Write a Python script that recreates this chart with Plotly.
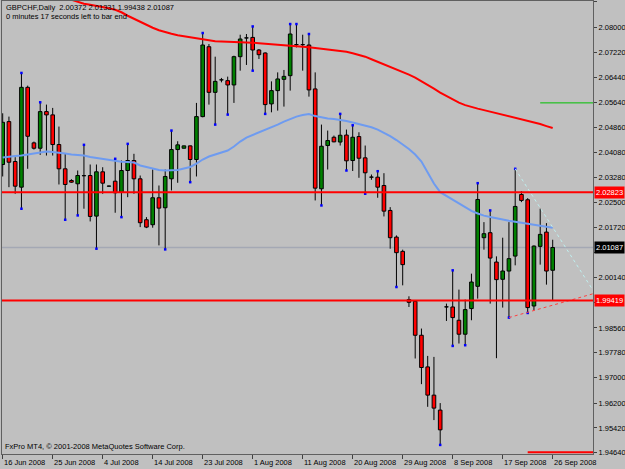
import plotly.graph_objects as go

# ---------------- data ----------------
tick_bars = [0, 8, 16, 24, 32, 40, 48, 56, 64, 72, 80, 88]
tick_labels = ["16 Jun 2008", "25 Jun 2008", "4 Jul 2008", "14 Jul 2008", "23 Jul 2008",
               "1 Aug 2008", "11 Aug 2008", "20 Aug 2008", "29 Aug 2008", "8 Sep 2008",
               "17 Sep 2008", "26 Sep 2008"]

opens = [2.03694, 2.05042, 2.03788, 2.02982, 2.06118, 2.04374, 2.04205, 2.05356, 2.05253, 2.04321,
         2.03559, 2.03192, 2.03089, 2.03340, 2.03349, 2.02073, 2.03465, 2.03013, 2.03170, 2.02825,
         2.03506, 2.03819, 2.03245, 2.01960, 2.01803, 2.02650, 2.02336, 2.03245, 2.04164, 2.04205,
         2.04280, 2.03851, 2.05199, 2.07394, 2.05961, 2.06350, 2.06328, 2.06193, 2.07081, 2.07667,
         2.07686, 2.07291, 2.07197, 2.05598, 2.06015, 2.06369, 2.06485, 2.07457, 2.07457, 2.07448,
         2.06068, 2.02932, 2.04290, 2.04550, 2.04400, 2.04619, 2.03819, 2.04572, 2.03904, 2.03296,
         2.03296, 2.03035, 2.02251, 2.01414, 2.00966, 1.99451, 1.99398, 1.98331, 1.97337, 1.96450,
         1.95980, 1.99219, 1.99219, 1.98802, 1.98363, 1.99169, 1.99868, 2.01395, 2.01552, 2.00630,
         2.00088, 2.00348, 2.00818, 2.02753, 2.02587, 1.99250, 2.01122, 2.01571, 2.00372]
highs = [2.05303, 2.05199, 2.03923, 2.06570, 2.06171, 2.04415, 2.05648, 2.05576, 2.05472, 2.04886,
         2.04030, 2.03233, 2.03506, 2.04312, 2.03694, 2.03694, 2.03609, 2.03030, 2.03873, 2.03819,
         2.04343, 2.04030, 2.03349, 2.02041, 2.03537, 2.03035, 2.03537, 2.04760, 2.04425, 2.04290,
         2.04290, 2.05629, 2.07824, 2.07479, 2.07081, 2.06413, 2.06454, 2.07112, 2.07771, 2.07793,
         2.08031, 2.07322, 2.07216, 2.06306, 2.06588, 2.06664, 2.08106, 2.08106, 2.07771, 2.07793,
         2.06588, 2.04948, 2.04760, 2.04603, 2.05284, 2.04792, 2.04926, 2.04707, 2.04290, 2.03380,
         2.03484, 2.03421, 2.02355, 2.01467, 2.01019, 1.99554, 1.99429, 1.98541, 1.97682, 1.97651,
         1.96200, 1.99325, 2.00370, 1.99765, 1.99451, 2.00266, 2.03108, 2.01884, 2.02251, 2.00809,
         2.01395, 2.01884, 2.03559, 2.02857, 2.02637, 2.01154, 2.02305, 2.01853, 2.01331]
lows = [2.03318, 2.02982, 2.02775, 2.02305, 2.03559, 2.04164, 2.03998, 2.03976, 2.03976, 2.03067,
        2.01960, 2.03120, 2.02095, 2.02305, 2.01906, 2.01050, 2.02775, 2.02998, 2.02179, 2.02041,
        2.02668, 2.02775, 2.01728, 2.01696, 2.01709, 2.01154, 2.01028, 2.02879, 2.03120, 2.04196,
        2.03139, 2.03318, 2.05177, 2.05576, 2.04948, 2.06275, 2.05262, 2.05629, 2.06642, 2.06821,
        2.06642, 2.07009, 2.05284, 2.05334, 2.05387, 2.05513, 2.06015, 2.07372, 2.06642, 2.05826,
        2.02565, 2.02408, 2.03537, 2.04393, 2.04290, 2.03506, 2.03490, 2.03277, 2.02775, 2.03214,
        2.02650, 2.02063, 2.01050, 1.99846, 1.99899, 1.99219, 1.97601, 1.96795, 1.96083, 1.95666,
        1.94886, 1.98780, 1.97996, 1.98071, 1.98018, 1.98802, 1.99482, 2.01019, 1.99325, 1.97610,
        1.99200, 1.98886, 2.00527, 2.02512, 1.99031, 1.99115, 2.00549, 1.99921, 1.99438]
closes = [2.05020, 2.03766, 2.03013, 2.06118, 2.04581, 2.04205, 2.05356, 2.05253, 2.04321, 2.03559,
          2.03067, 2.03139, 2.03349, 2.03340, 2.02063, 2.03465, 2.03108, 2.03013, 2.02806, 2.03506,
          2.03819, 2.03245, 2.01866, 2.01728, 2.02650, 2.02324, 2.03318, 2.04164, 2.04312, 2.04280,
          2.03851, 2.05199, 2.07448, 2.05961, 2.06306, 2.06350, 2.06193, 2.07081, 2.07636, 2.07667,
          2.07291, 2.07144, 2.05576, 2.06015, 2.06382, 2.06463, 2.07793, 2.07457, 2.07457, 2.06037,
          2.02951, 2.04268, 2.04447, 2.04406, 2.04613, 2.03810, 2.04550, 2.03891, 2.03434, 2.03296,
          2.02982, 2.02229, 2.01395, 2.00925, 2.00549, 1.99366, 1.98331, 1.97318, 1.96450, 1.96042,
          1.95360, 1.99219, 1.98886, 1.98363, 1.99137, 2.00003, 2.02596, 2.01521, 2.00756, 2.00078,
          2.00348, 2.00737, 2.02377, 2.02565, 1.99200, 2.01132, 2.01499, 2.00348, 2.01087]

ma_fast = [2.03913, 2.03945, 2.03961, 2.03976, 2.04008, 2.04039, 2.04070, 2.04102, 2.04086, 2.04070,
           2.04039, 2.04008, 2.03992, 2.03976, 2.03929, 2.03898, 2.03857, 2.03819, 2.03788, 2.03779,
           2.03772, 2.03757, 2.03663, 2.03616, 2.03569, 2.03521, 2.03506, 2.03506, 2.03521, 2.03569,
           2.03616, 2.03725, 2.03851, 2.03945, 2.04008, 2.04070, 2.04133, 2.04258, 2.04415, 2.04541,
           2.04619, 2.04697, 2.04792, 2.04870, 2.04948, 2.05042, 2.05121, 2.05199, 2.05246, 2.05278,
           2.05215, 2.05168, 2.05137, 2.05121, 2.05096, 2.05058, 2.05011, 2.04964, 2.04917, 2.04864,
           2.04792, 2.04697, 2.04588, 2.04462, 2.04321, 2.04180, 2.04008, 2.03788, 2.03443, 2.03098,
           2.02825, 2.02706, 2.02581, 2.02471, 2.02345, 2.02236, 2.02157, 2.02088, 2.02048, 2.02001,
           2.01960, 2.01928, 2.01897, 2.01866, 2.01834, 2.01806, 2.01781, 2.01743, 2.01709]
ma_slow = [None] * 11 + [
           2.08870, 2.08806, 2.08743, 2.08712, 2.08680, 2.08649, 2.08602, 2.08555, 2.08476, 2.08367,
           2.08273, 2.08163, 2.08069, 2.07990, 2.07912, 2.07849, 2.07802, 2.07755, 2.07724, 2.07686,
           2.07652, 2.07620, 2.07592, 2.07567, 2.07558, 2.07551, 2.07551, 2.07551, 2.07536, 2.07520,
           2.07504, 2.07489, 2.07479, 2.07467, 2.07457, 2.07442, 2.07426, 2.07410, 2.07379,
           2.07354, 2.07332, 2.07307, 2.07285, 2.07269, 2.07238, 2.07191, 2.07144, 2.07081, 2.07002,
           2.06924, 2.06846, 2.06767, 2.06689, 2.06610, 2.06516, 2.06422, 2.06313, 2.06203, 2.06077,
           2.05952, 2.05842, 2.05732, 2.05638, 2.05560, 2.05497, 2.05450, 2.05403, 2.05356, 2.05309,
           2.05262, 2.05215, 2.05168, 2.05121, 2.05074, 2.05027, 2.04964, 2.04901, 2.04839]

fractal_up_bars = [3, 6, 13, 18, 20, 27, 32, 40, 46, 47, 49, 54, 56, 60, 72, 76, 78, 82]
fractal_down_bars = [3, 10, 12, 15, 19, 26, 30, 34, 36, 40, 42, 51, 55, 58, 63, 70, 72, 74, 81, 84]

price_ticks = [2.08800, 2.08000, 2.07220, 2.06440, 2.05640, 2.04860, 2.04080, 2.03280, 2.02500,
               2.01720, 2.00920, 2.00140, 1.99360, 1.98560, 1.97780, 1.97000, 1.96200, 1.95420, 1.94640]
# tick labels that sit under the price boxes (hidden in the reference)
hidden_ticks = [2.00920, 1.99360]

red_levels = [2.02823, 1.99419]
bid_level = 2.01087
green_level = (86, 2.05630)
low_marker_level = (84, 1.94655)
resist_anchor = [(82, 2.03559), (88, 2.01721)]
support_anchor = [(81, 1.98886), (88, 1.99275)]

title_line1 = "GBPCHF,Daily\u00a0 2.00372 2.01331 1.99438 2.01087"
title_line2 = "0 minutes 17 seconds left to bar end"
footer = "FxPro MT4, \u00a9 2001-2008 MetaQuotes Software Corp."

# ---------------- view ----------------
X0, X1 = -0.112, 94.45
Y0, Y1 = 1.94601, 2.08830
FONT = "Liberation Sans"
FS = 7.5

n = len(opens)
bars = list(range(n))

fig = go.Figure()

# candle bodies
base = [min(o, c) for o, c in zip(opens, closes)]
hgt = [max(abs(c - o), 0.00005) for o, c in zip(opens, closes)]
colors = ["#008000" if c > o else ("#FF0000" if c < o else "#000000") for o, c in zip(opens, closes)]
fig.add_trace(go.Bar(x=bars, y=hgt, base=base, width=0.58,
                     marker=dict(color=colors, line=dict(color="#000000", width=1))))

# wicks (split above / below the body)
wx, wy = [], []
for i in bars:
    top = max(opens[i], closes[i])
    bot = min(opens[i], closes[i])
    if highs[i] > top:
        wx += [i, i, None]
        wy += [highs[i], top, None]
    if lows[i] < bot:
        wx += [i, i, None]
        wy += [bot, lows[i], None]
fig.add_trace(go.Scatter(x=wx, y=wy, mode="lines", line=dict(color="#000000", width=1)))

# moving averages
fig.add_trace(go.Scatter(x=bars, y=ma_fast, mode="lines", line=dict(color="#6E9BF0", width=2)))
fig.add_trace(go.Scatter(x=bars, y=ma_slow, mode="lines", line=dict(color="#FF0000", width=2)))

# fractals
fig.add_trace(go.Scatter(x=fractal_up_bars, y=[highs[i] for i in fractal_up_bars], mode="markers",
                         marker=dict(symbol="square", size=2.5, color="#0000FF")))
fig.add_trace(go.Scatter(x=fractal_down_bars, y=[lows[i] for i in fractal_down_bars], mode="markers",
                         marker=dict(symbol="square", size=2.5, color="#0000FF")))

# trend rays
def ray(anchor):
    (xa, ya), (xb, yb) = anchor
    slope = (yb - ya) / (xb - xa)
    return [xa, X1], [ya, ya + slope * (X1 - xa)]

rx, ry = ray(resist_anchor)
fig.add_trace(go.Scatter(x=rx, y=ry, mode="lines", line=dict(color="#BFEFEF", width=1, dash="dot")))
sx, sy = ray(support_anchor)
fig.add_trace(go.Scatter(x=sx, y=sy, mode="lines", line=dict(color="#FF4040", width=1, dash="dot")))

shapes = []
for lv in red_levels:
    shapes.append(dict(type="line", xref="paper", x0=0, x1=1, yref="y", y0=lv, y1=lv,
                       line=dict(color="#FF0000", width=2), layer="above"))
shapes.append(dict(type="line", xref="paper", x0=0, x1=1, yref="y", y0=bid_level, y1=bid_level,
                   line=dict(color="#A4A8B4", width=1.5), layer="below"))
shapes.append(dict(type="line", xref="x", x0=green_level[0], x1=X1, yref="y",
                   y0=green_level[1], y1=green_level[1], line=dict(color="#00C000", width=1)))
shapes.append(dict(type="line", xref="x", x0=low_marker_level[0], x1=X1, yref="y",
                   y0=low_marker_level[1], y1=low_marker_level[1], line=dict(color="#FF0000", width=2)))

annotations = [
    dict(x=0, xref="paper", xanchor="left", xshift=3, y=1, yref="paper", yanchor="top", yshift=-1,
         text=title_line1, showarrow=False, borderpad=0, font=dict(size=FS, color="#000000")),
    dict(x=0, xref="paper", xanchor="left", xshift=3, y=1, yref="paper", yanchor="top", yshift=-10,
         text=title_line2, showarrow=False, borderpad=0, font=dict(size=FS, color="#000000")),
    dict(x=0, xref="paper", xanchor="left", xshift=2, y=0, yref="paper", yanchor="bottom", yshift=2,
         text=footer, showarrow=False, borderpad=0, font=dict(size=FS, color="#000000")),
]
# date labels, left-aligned just right of their tick (MT4 style)
for b, lab in zip(tick_bars, tick_labels):
    annotations.append(dict(x=b, xref="x", xanchor="left", xshift=0, y=0, yref="paper",
                            yanchor="top", yshift=-3, text=lab, showarrow=False, borderpad=0,
                            font=dict(size=FS, color="#000000")))
for lv, bg in [(red_levels[0], "#FF0000"), (bid_level, "#000000"), (red_levels[1], "#FF0000")]:
    annotations.append(dict(x=1, xref="paper", xanchor="left", xshift=1, y=lv, yref="y",
                            text=f"{lv:.5f}", showarrow=False, bgcolor=bg, borderpad=1,
                            font=dict(size=FS, color="#FFFFFF")))

fig.update_layout(
    width=625, height=469, margin=dict(l=2, r=32, t=1, b=15, pad=0),
    template="none", paper_bgcolor="#C0C0C0", plot_bgcolor="#C0C0C0",
    showlegend=False, hovermode=False, barmode="overlay",
    font=dict(family=FONT, size=FS, color="#000000"),
    shapes=shapes, annotations=annotations,
    xaxis=dict(range=[X0, X1], tickmode="array", tickvals=tick_bars, ticktext=[""] * len(tick_bars),
               ticks="outside", ticklen=4, tickcolor="#404040", tickwidth=1,
               showgrid=False, zeroline=False, showline=True, mirror=True,
               linecolor="#606060", linewidth=1, automargin=False),
    yaxis=dict(range=[Y0, Y1], side="right", tickmode="array", tickvals=price_ticks,
               ticktext=["" if v in hidden_ticks else f"{v:.5f}" for v in price_ticks],
               ticks="outside", ticklen=3, tickcolor="#404040", tickwidth=1, tickfont=dict(size=FS),
               showgrid=False, zeroline=False, showline=True, mirror=True,
               linecolor="#606060", linewidth=1, automargin=False),
)

fig.write_html("out.html")
